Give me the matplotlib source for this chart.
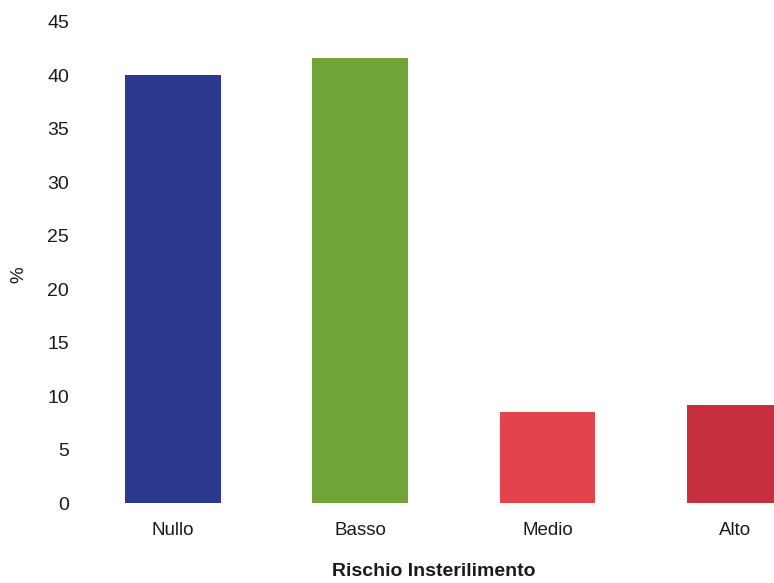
import matplotlib
matplotlib.use("Agg")
import matplotlib.pyplot as plt

# Rischio di insterilimento: percentuale per classe
categories = ["Nullo", "Basso", "Medio", "Alto"]
values = [40.0, 41.6, 8.5, 9.2]
colors = ["#2B3A8E", "#71A437", "#E3434A", "#C52F3E"]
yticks = [0, 5, 10, 15, 20, 25, 30, 35, 40, 45]

plt.rcParams["font.family"] = ["Liberation Sans", "DejaVu Sans"]

fig = plt.figure(figsize=(7.74, 5.83), dpi=100)
ax = fig.add_axes([85 / 774, 80 / 583, 1 - 85 / 774, 481 / 583])

x = list(range(len(categories)))
ax.bar(x, values, width=0.51, color=colors, zorder=2)

ax.set_xlim(-0.47, 3.21)
ax.set_ylim(0, 45)
ax.set_yticks(yticks)
ax.set_yticklabels([str(t) for t in yticks], fontsize=14, color="#1a1a1a")
ax.set_xticks(x)
ax.set_xticklabels(categories, fontsize=13.5, color="#1a1a1a")
ax.tick_params(axis="y", length=0, pad=11.5)
ax.tick_params(axis="x", length=0, pad=14)

for s in ax.spines.values():
    s.set_visible(False)

fig.text(434 / 774, 1 - 572 / 583, "Rischio Insterilimento", ha="center", va="center",
         fontsize=14, fontweight="bold", color="#1a1a1a")
fig.text(19 / 774, 1 - 275 / 583, "%", ha="center", va="center", rotation=90,
         fontsize=13.5, color="#1a1a1a")

fig.savefig("out.png", dpi=100, facecolor="white")
